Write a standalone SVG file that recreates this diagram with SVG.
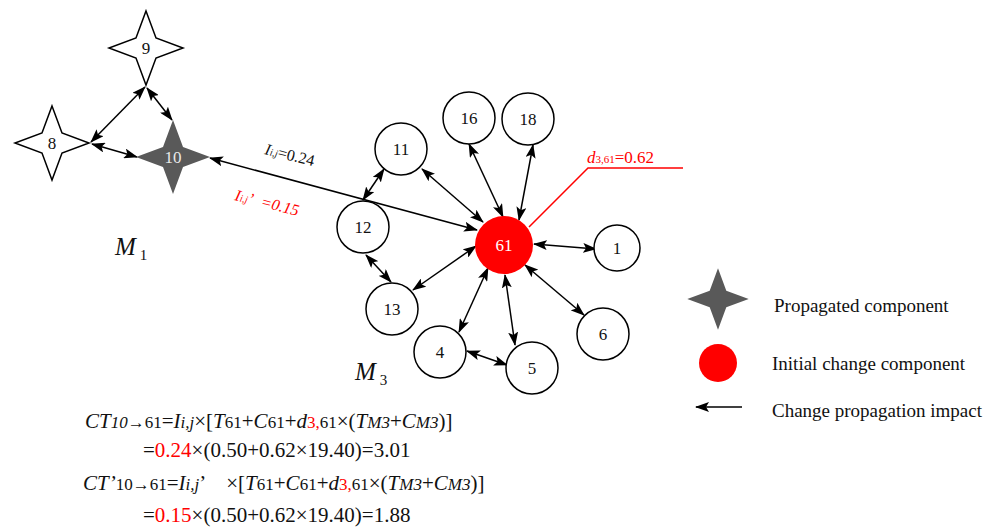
<svg xmlns="http://www.w3.org/2000/svg" width="1008" height="529" viewBox="0 0 1008 529">
<style>
text{font-family:"Liberation Serif","Times New Roman",serif;fill:#111}
.lbl{font-family:"Liberation Serif","Times New Roman",serif;font-size:17px;text-anchor:middle}
.star{fill:#fff;stroke:#000;stroke-width:1.5;stroke-linejoin:miter}
.node{fill:#fff;stroke:#000;stroke-width:1.5}
.edge{stroke:#000;stroke-width:1.5;fill:none;marker-start:url(#ah);marker-end:url(#ah)}
.it{font-style:italic}
.red{fill:#f00}
.sub{font-size:17px}
.leg{font-size:19px}
</style>
<defs>
<marker id="ah" viewBox="0 0 14 10" refX="13" refY="5" markerWidth="14" markerHeight="10" markerUnits="userSpaceOnUse" orient="auto-start-reverse"><path d="M0,0 L14,5 L0,10 L3,5 Z" fill="#000"/></marker>
<path id="starShape" d="M0,-37 L10,-10 L37,0 L10,10 L0,37 L-10,10 L-37,0 L-10,-10 Z"/>
</defs>

<g id="connectors">
<line class="edge" x1="145" y1="87" x2="91" y2="142"/>
<line class="edge" x1="147" y1="88" x2="172" y2="120"/>
<line class="edge" x1="92" y1="144" x2="137" y2="157"/>
<line class="edge" x1="210" y1="158" x2="477" y2="230"/>
<line class="edge" x1="384" y1="169" x2="363" y2="200"/>
<line class="edge" x1="422" y1="169" x2="483" y2="222"/>
<line class="edge" x1="469" y1="144" x2="503" y2="217"/>
<line class="edge" x1="533" y1="145" x2="519" y2="220"/>
<line class="edge" x1="534" y1="244" x2="596" y2="249"/>
<line class="edge" x1="366" y1="255" x2="391" y2="282"/>
<line class="edge" x1="476" y1="246" x2="413" y2="290"/>
<line class="edge" x1="488" y1="268" x2="459" y2="332"/>
<line class="edge" x1="505" y1="275" x2="515" y2="345"/>
<line class="edge" x1="525" y1="265" x2="584" y2="315"/>
<line class="edge" x1="467" y1="351" x2="507" y2="365"/>
<polyline points="529,227 588,168 683,168" fill="none" stroke="#f00" stroke-width="1.5"/>
</g>

<g id="n9"><use href="#starShape" class="star" transform="translate(146,48)"/><text class="lbl" x="146" y="54">9</text></g>
<g id="n8"><use href="#starShape" class="star" transform="translate(52,143)"/><text class="lbl" x="52" y="149">8</text></g>
<g id="n10"><use href="#starShape" fill="#595959" transform="translate(173,157)"/><text class="lbl" x="173" y="163" style="fill:#e8e8e8">10</text></g>

<g id="n11"><circle class="node" cx="401" cy="149" r="26"/><text class="lbl" x="401" y="155">11</text></g>
<g id="n16"><circle class="node" cx="469" cy="118" r="26"/><text class="lbl" x="469" y="124">16</text></g>
<g id="n18"><circle class="node" cx="528" cy="119" r="26"/><text class="lbl" x="528" y="125">18</text></g>
<g id="n12"><circle class="node" cx="363" cy="227" r="26"/><text class="lbl" x="363" y="233">12</text></g>
<g id="n1"><circle class="node" cx="617" cy="248" r="23"/><text class="lbl" x="617" y="254">1</text></g>
<g id="n13"><circle class="node" cx="392" cy="309" r="26"/><text class="lbl" x="392" y="315">13</text></g>
<g id="n4"><circle class="node" cx="440" cy="352" r="26"/><text class="lbl" x="440" y="358">4</text></g>
<g id="n5"><circle class="node" cx="532" cy="368" r="26"/><text class="lbl" x="532" y="374">5</text></g>
<g id="n6"><circle class="node" cx="603" cy="334" r="26"/><text class="lbl" x="603" y="340">6</text></g>
<g id="n61"><circle cx="504" cy="245" r="29" fill="#f00"/><text class="lbl" x="504" y="251" style="fill:#fff">61</text></g>

<g id="labels">
<text transform="translate(264,154) rotate(14)" font-size="16"><tspan class="it">I</tspan><tspan class="it" font-size="10">i,j</tspan>=0.24</text>
<text transform="translate(234,200) rotate(14)" font-size="16" class="it red"><tspan class="red">I</tspan><tspan class="red" font-size="10">i,j</tspan><tspan class="red">’</tspan><tspan class="red" dx="8">=0.15</tspan></text>
<text x="587" y="163" font-size="17" class="red"><tspan class="it red">d</tspan><tspan class="red" font-size="11">3,61</tspan><tspan class="red">=0.62</tspan></text>
<text x="115" y="255" font-size="25"><tspan class="it">M</tspan><tspan font-size="15" dx="4" dy="5">1</tspan></text>
<text x="355" y="380" font-size="25"><tspan class="it">M</tspan><tspan font-size="15" dx="4" dy="5">3</tspan></text>
</g>

<g id="formula" font-size="21">
<text x="85" y="428" font-size="21"><tspan class="it">CT</tspan><tspan class="sub it">10</tspan><tspan class="sub">→61</tspan>=<tspan class="it">I</tspan><tspan class="sub it">i,j</tspan>×[<tspan class="it">T</tspan><tspan class="sub">61</tspan>+<tspan class="it">C</tspan><tspan class="sub">61</tspan>+<tspan class="it">d</tspan><tspan class="sub red">3,</tspan><tspan class="sub">61</tspan>×(<tspan class="it">T</tspan><tspan class="sub it">M3</tspan>+<tspan class="it">C</tspan><tspan class="sub it">M3</tspan>)]</text>
<text x="143" y="457" font-size="21">=<tspan class="red">0.24</tspan>×(0.50+0.62×19.40)=3.01</text>
<text x="83" y="490" font-size="21"><tspan class="it">CT’</tspan><tspan class="sub">10→61</tspan>=<tspan class="it">I</tspan><tspan class="sub it">i,j</tspan>’<tspan dx="20">×[</tspan><tspan class="it">T</tspan><tspan class="sub">61</tspan>+<tspan class="it">C</tspan><tspan class="sub">61</tspan>+<tspan class="it">d</tspan><tspan class="sub red">3,</tspan><tspan class="sub">61</tspan>×(<tspan class="it">T</tspan><tspan class="sub it">M3</tspan>+<tspan class="it">C</tspan><tspan class="sub it">M3</tspan>)]</text>
<text x="143" y="522" font-size="21">=<tspan class="red">0.15</tspan>×(0.50+0.62×19.40)=1.88</text>
</g>

<g id="legend">
<use href="#starShape" fill="#595959" transform="translate(718,299) scale(0.83)"/>
<text class="leg" x="774" y="312">Propagated component</text>
<circle cx="718" cy="363" r="19" fill="#f00"/>
<text class="leg" x="772" y="370">Initial change component</text>
<line x1="742" y1="407" x2="696" y2="407" stroke="#000" stroke-width="1.5" marker-end="url(#ah)"/>
<text class="leg" x="772" y="417">Change propagation impact</text>
</g>
</svg>
